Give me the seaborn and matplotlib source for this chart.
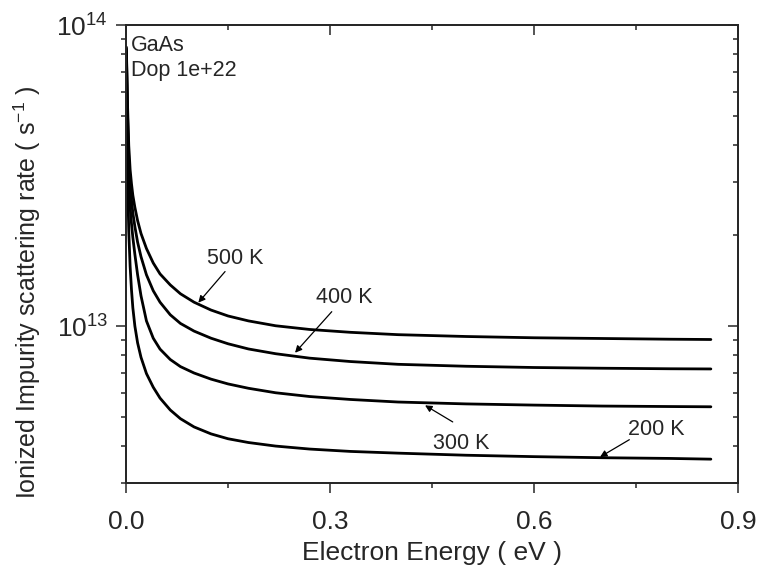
import numpy as np
import pandas as pd
import matplotlib
matplotlib.use("Agg")
import matplotlib.pyplot as plt
import matplotlib.ticker as mticker
import seaborn as sns

# values
energy = [0.0005, 0.002, 0.004, 0.006, 0.008, 0.01, 0.013, 0.017, 0.022, 0.03,
          0.04, 0.05, 0.065, 0.08, 0.1, 0.125, 0.15, 0.18, 0.22, 0.27,
          0.33, 0.4, 0.5, 0.6, 0.7, 0.8, 0.86]

rate_200 = [8.13e13, 3.24e13, 2.07e13, 1.58e13, 1.32e13, 1.15e13, 9.99e12, 8.79e12, 7.87e12, 6.95e12,
            6.26e12, 5.76e12, 5.26e12, 4.92e12, 4.62e12, 4.38e12, 4.22e12, 4.10e12, 3.99e12, 3.90e12,
            3.83e12, 3.78e12, 3.72e12, 3.68e12, 3.65e12, 3.63e12, 3.61e12]
rate_300 = [8.25e13, 4.82e13, 3.09e13, 2.49e13, 2.19e13, 1.97e13, 1.73e13, 1.48e13, 1.26e13, 1.04e13,
            9.11e12, 8.38e12, 7.74e12, 7.33e12, 6.98e12, 6.66e12, 6.42e12, 6.21e12, 6.00e12, 5.83e12,
            5.70e12, 5.59e12, 5.51e12, 5.46e12, 5.42e12, 5.40e12, 5.39e12]
rate_400 = [8.35e13, 5.21e13, 3.59e13, 2.96e13, 2.62e13, 2.38e13, 2.14e13, 1.90e13, 1.70e13, 1.48e13,
            1.31e13, 1.20e13, 1.09e13, 1.02e13, 9.62e12, 9.11e12, 8.73e12, 8.39e12, 8.09e12, 7.82e12,
            7.62e12, 7.46e12, 7.35e12, 7.28e12, 7.24e12, 7.21e12, 7.20e12]
rate_500 = [8.45e13, 5.62e13, 3.98e13, 3.31e13, 2.97e13, 2.72e13, 2.48e13, 2.24e13, 2.03e13, 1.81e13,
            1.62e13, 1.49e13, 1.37e13, 1.28e13, 1.20e13, 1.13e13, 1.08e13, 1.04e13, 1.002e13, 9.74e12,
            9.53e12, 9.36e12, 9.23e12, 9.14e12, 9.09e12, 9.04e12, 9.02e12]

temps = ['200 K', '300 K', '400 K', '500 K']

# label position, arrow tail, arrow tip (data coords)
label_xy = [(0.7804, 4.53e12), (0.4926, 4.08e12), (0.3206, 1.243e13), (0.160, 1.672e13)]
tail_xy = [(0.7401, 4.19e12), (0.4804, 4.80e12), (0.3025, 1.116e13), (0.1456, 1.517e13)]
tip_xy = [(0.697, 3.67e12), (0.4397, 5.45e12), (0.2485, 8.15e12), (0.1063, 1.196e13)]

frames = []
for t, r in zip(temps, [rate_200, rate_300, rate_400, rate_500]):
    frames.append(pd.DataFrame({'energy': energy, 'rate': r, 'temp': t}))
data = pd.concat(frames, ignore_index=True)

sns.set_style("ticks")
plt.rcParams['font.family'] = ['Liberation Sans', 'DejaVu Sans']
plt.rcParams['mathtext.default'] = 'regular'

fig = plt.figure(figsize=(7.57, 5.72), dpi=100)
ax = fig.add_subplot(111)
fig.subplots_adjust(left=0.1665, right=0.975, top=0.956, bottom=0.155)

sns.lineplot(data=data, x='energy', y='rate', hue='temp', palette=['black'] * 4,
             estimator=None, legend=False, linewidth=2.0, ax=ax)

ax.set_yscale('log')
ax.set_xlim(0, 0.9)
ax.set_ylim(3e12, 1e14)

ax.xaxis.set_major_locator(mticker.MultipleLocator(0.3))
ax.xaxis.set_minor_locator(mticker.MultipleLocator(0.15))
ax.xaxis.set_major_formatter(mticker.FormatStrFormatter('%.1f'))
ax.yaxis.set_major_locator(mticker.LogLocator(base=10, numticks=10))
ax.yaxis.set_minor_locator(mticker.LogLocator(base=10, subs=np.arange(2, 10), numticks=10))
ax.yaxis.set_minor_formatter(mticker.NullFormatter())

ax.tick_params(which='major', direction='out', length=7, width=1.1, labelsize=19, pad=6)
ax.tick_params(axis='x', which='major', pad=12)
ax.tick_params(which='minor', direction='out', length=3.5, width=1.1)
for s in ax.spines.values():
    s.set_linewidth(1.1)

ax.set_xlabel('Electron Energy ( eV )', fontsize=19, labelpad=5)
ax.set_ylabel('Ionized Impurity scattering rate ( s$^{-1}$ )', fontsize=18)
ax.yaxis.set_label_coords(-0.135, 0.416)

# inward ticks on top and right
axt = ax.twiny()
axt.set_xlim(ax.get_xlim())
axt.xaxis.set_major_locator(mticker.MultipleLocator(0.3))
axt.xaxis.set_minor_locator(mticker.MultipleLocator(0.15))
axt.tick_params(which='major', direction='in', length=7, width=1.1, labeltop=False)
axt.tick_params(which='minor', direction='in', length=3.5, width=1.1)

axr = ax.twinx()
axr.set_yscale('log')
axr.set_ylim(ax.get_ylim())
axr.yaxis.set_major_locator(mticker.LogLocator(base=10, numticks=10))
axr.yaxis.set_minor_locator(mticker.LogLocator(base=10, subs=np.arange(2, 10), numticks=10))
axr.tick_params(which='major', direction='in', length=7, width=1.1, labelright=False)
axr.tick_params(which='minor', direction='in', length=3.5, width=1.1, labelright=False)
for a in (axt, axr):
    for s in a.spines.values():
        s.set_linewidth(1.1)

for t, lxy, txy, pxy in zip(temps, label_xy, tail_xy, tip_xy):
    ax.text(lxy[0], lxy[1], t, fontsize=15.5, ha='center', va='center')
    ax.annotate('', xy=pxy, xytext=txy,
                arrowprops=dict(arrowstyle='-|>', color='black', lw=0.9,
                                mutation_scale=10, shrinkA=0, shrinkB=0))

ax.text(0.008, 0.956, 'GaAs', transform=ax.transAxes, fontsize=15.5, ha='left', va='center')
ax.text(0.008, 0.902, 'Dop 1e+22', transform=ax.transAxes, fontsize=15.5, ha='left', va='center')

fig.savefig('out.png', dpi=100)
